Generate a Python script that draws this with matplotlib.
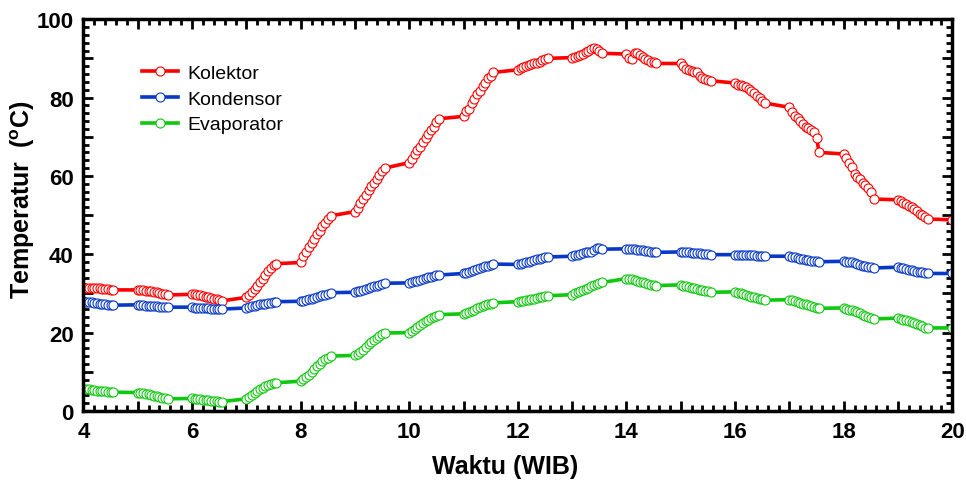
# chart of collector / condenser / evaporator temperature over the day
import numpy as np
import matplotlib.pyplot as plt
from matplotlib.ticker import MultipleLocator, FuncFormatter

plt.rcParams['font.family'] = ['Liberation Sans', 'DejaVu Sans']
plt.rcParams['mathtext.fontset'] = 'custom'
plt.rcParams['mathtext.bf'] = 'Liberation Sans:bold'
plt.rcParams['mathtext.rm'] = 'Liberation Sans'

# measurement hours and 3-minute offsets inside each half-hour burst
hours = [4, 5, 6, 7, 8, 9, 10, 11, 12, 13, 14, 15, 16, 17, 18, 19]
minutes = [0, 3, 6, 9, 12, 15, 18, 21, 24, 27, 30, 33]
last_time = 20

kolektor = [
    31.6, 31.5, 31.5, 31.4, 31.4, 31.3, 31.3, 31.2, 31.2, 31.1, 31.0, 30.9,
    30.9, 30.9, 30.8, 30.7, 30.6, 30.5, 30.4, 30.3, 30.1, 29.9, 29.8, 29.6,
    29.8, 29.8, 29.7, 29.6, 29.4, 29.2, 29.0, 28.8, 28.7, 28.5, 28.3, 28.1,
    29.0, 29.6, 30.3, 31.1, 32.0, 32.9, 33.8, 34.8, 35.8, 36.6, 37.2, 37.6,
    37.9, 39.5, 40.6, 41.8, 42.9, 43.9, 45.2, 46.0, 47.1, 48.1, 49.0, 49.8,
    50.9, 51.8, 53.0, 54.2, 55.2, 56.3, 57.3, 58.3, 59.3, 60.2, 61.2, 62.0,
    63.4, 64.3, 65.5, 66.5, 67.5, 68.6, 69.6, 70.6, 71.6, 72.6, 73.8, 74.6,
    75.2, 76.6, 77.2, 78.7, 79.6, 80.9, 81.7, 83.0, 83.8, 84.9, 85.5, 86.4,
    87.1, 87.5, 87.9, 88.1, 88.3, 88.5, 88.7, 88.8, 89.0, 89.5, 89.9, 90.0,
    90.2, 90.4, 90.6, 90.9, 91.2, 91.6, 92.0, 92.4, 92.7, 92.5, 91.9, 91.3,
    91.1, 90.2, 89.8, 91.3, 91.5, 90.9, 90.4, 89.9, 89.5, 89.2, 89.0, 88.7,
    88.7, 88.1, 87.4, 87.1, 86.8, 86.6, 86.4, 85.5, 85.1, 84.7, 84.4, 84.3,
    83.7, 83.2, 83.2, 83.0, 82.8, 82.3, 81.7, 81.1, 80.4, 79.8, 79.2, 78.6,
    77.5, 76.4, 75.3, 74.7, 74.1, 73.2, 72.6, 72.2, 71.7, 71.1, 69.6, 66.0,
    65.6, 64.5, 63.4, 62.2, 60.5, 59.6, 59.2, 58.3, 57.7, 56.8, 55.8, 54.1,
    53.9, 53.6, 53.2, 52.8, 52.4, 52.0, 51.5, 51.0, 50.4, 49.9, 49.4, 49.0,
    48.8,
]

kondensor = [
    28.0, 27.9, 27.8, 27.7, 27.6, 27.5, 27.4, 27.3, 27.2, 27.1, 27.1, 27.0,
    27.1, 27.0, 27.0, 26.9, 26.9, 26.8, 26.7, 26.7, 26.6, 26.6, 26.5, 26.5,
    26.5, 26.4, 26.4, 26.3, 26.3, 26.2, 26.2, 26.1, 26.1, 26.1, 26.0, 26.0,
    26.3, 26.5, 26.7, 26.9, 27.0, 27.2, 27.3, 27.4, 27.5, 27.6, 27.8, 27.9,
    28.0, 28.1, 28.3, 28.5, 28.7, 28.9, 29.1, 29.3, 29.5, 29.7, 29.9, 30.2,
    30.3, 30.5, 30.7, 30.9, 31.1, 31.3, 31.6, 31.8, 32.0, 32.2, 32.4, 32.6,
    32.7, 32.9, 33.1, 33.3, 33.5, 33.7, 33.9, 34.1, 34.3, 34.4, 34.6, 34.7,
    35.1, 35.3, 35.5, 35.8, 36.0, 36.3, 36.5, 36.7, 36.9, 37.1, 37.3, 37.5,
    37.4, 37.6, 37.8, 38.0, 38.1, 38.3, 38.5, 38.7, 38.8, 39.0, 39.2, 39.3,
    39.5, 39.7, 39.9, 40.1, 40.3, 40.5, 40.6, 40.7, 41.2, 41.5, 41.5, 41.3,
    41.4, 41.4, 41.3, 41.3, 41.2, 41.1, 41.0, 40.9, 40.8, 40.7, 40.6, 40.5,
    40.6, 40.6, 40.5, 40.5, 40.4, 40.3, 40.3, 40.2, 40.1, 40.1, 40.0, 39.9,
    39.9, 39.9, 39.9, 39.8, 39.8, 39.7, 39.7, 39.7, 39.6, 39.6, 39.5, 39.5,
    39.5, 39.4, 39.3, 39.1, 38.9, 38.8, 38.6, 38.5, 38.4, 38.3, 38.2, 38.1,
    38.2, 38.1, 38.0, 37.9, 37.7, 37.5, 37.3, 37.1, 37.0, 36.8, 36.7, 36.5,
    36.7, 36.5, 36.4, 36.2, 36.0, 35.9, 35.7, 35.6, 35.5, 35.4, 35.2, 35.1,
    35.1,
]

evaporator = [
    5.7, 5.6, 5.5, 5.4, 5.3, 5.2, 5.2, 5.1, 5.0, 4.9, 4.9, 4.8,
    4.7, 4.6, 4.5, 4.4, 4.3, 4.1, 3.9, 3.8, 3.6, 3.4, 3.2, 3.1,
    3.2, 3.1, 3.0, 3.0, 2.9, 2.8, 2.7, 2.6, 2.6, 2.5, 2.4, 2.4,
    3.1, 3.5, 4.0, 4.5, 5.0, 5.5, 5.9, 6.3, 6.6, 6.9, 7.1, 7.2,
    7.6, 8.2, 8.7, 9.3, 10.0, 10.8, 11.5, 12.1, 12.7, 13.2, 13.6, 14.0,
    14.2, 14.5, 15.0, 15.6, 16.3, 17.0, 17.6, 18.2, 18.7, 19.2, 19.6, 19.9,
    20.0, 20.4, 20.9, 21.4, 21.9, 22.4, 22.9, 23.3, 23.7, 24.0, 24.3, 24.6,
    24.8, 25.0, 25.3, 25.6, 25.9, 26.2, 26.5, 26.8, 27.0, 27.2, 27.4, 27.6,
    27.9, 28.0, 28.1, 28.2, 28.4, 28.5, 28.7, 28.8, 29.0, 29.1, 29.3, 29.4,
    29.7, 30.0, 30.3, 30.6, 30.9, 31.2, 31.5, 31.8, 32.1, 32.4, 32.6, 32.8,
    33.8, 33.8, 33.6, 33.4, 33.2, 33.0, 32.8, 32.6, 32.4, 32.2, 32.1, 32.0,
    32.2, 32.0, 31.8, 31.6, 31.5, 31.3, 31.1, 31.0, 30.9, 30.7, 30.5, 30.3,
    30.4, 30.2, 30.0, 29.8, 29.5, 29.3, 29.1, 29.0, 28.8, 28.7, 28.5, 28.3,
    28.4, 28.2, 28.0, 27.8, 27.6, 27.4, 27.2, 27.0, 26.8, 26.6, 26.4, 26.2,
    26.3, 26.1, 25.9, 25.7, 25.5, 25.2, 24.9, 24.6, 24.3, 24.0, 23.7, 23.5,
    23.7, 23.5, 23.3, 23.1, 22.9, 22.7, 22.5, 22.2, 21.9, 21.6, 21.3, 21.2,
    21.2,
]

# decimal hour for every sample
waktu = [h + m / 60 for h in hours for m in minutes] + [last_time]

fig = plt.figure(figsize=(9.66, 4.81), dpi=100)
ax = fig.add_axes([0.0864, 0.1435, 0.8994, 0.8145])

series = [
    ("Kolektor", kolektor, "#ff0000"),
    ("Kondensor", kondensor, "#0838c8"),
    ("Evaporator", evaporator, "#10c810"),
]
for label, temp, color in series:
    ax.plot(waktu, temp, color=color, lw=2.6, marker="o", markersize=6.5,
            markerfacecolor="white", markeredgecolor=color,
            markeredgewidth=0.8, label=label)

ax.set_xlim(4, 20)
ax.set_ylim(0, 100)

ax.xaxis.set_major_locator(MultipleLocator(1))
ax.xaxis.set_minor_locator(MultipleLocator(0.2))
ax.xaxis.set_major_formatter(FuncFormatter(lambda v, p: f"{v:.0f}" if round(v) % 2 == 0 else ""))
ax.yaxis.set_major_locator(MultipleLocator(10))
ax.yaxis.set_minor_locator(MultipleLocator(2))
ax.yaxis.set_major_formatter(FuncFormatter(lambda v, p: f"{v:.0f}" if round(v) % 20 == 0 else ""))

ax.tick_params(which="both", direction="in", top=True, right=True, width=2)
ax.tick_params(which="major", length=7, labelsize=16, pad=7)
ax.tick_params(which="minor", length=4)
for lab in ax.get_xticklabels() + ax.get_yticklabels():
    lab.set_fontweight("bold")
for sp in ax.spines.values():
    sp.set_linewidth(2.5)

ax.set_xlabel("Waktu (WIB)", fontsize=18, fontweight="bold")
ax.set_ylabel("Temperatur  ($\\mathbf{^{o}}$C)", fontsize=18, fontweight="bold")
ax.xaxis.set_label_coords(0.485, -0.11)
ax.yaxis.set_label_coords(-0.054, 0.543)

ax.legend(loc="upper left", bbox_to_anchor=(0.058, 0.905), frameon=False,
          fontsize=14, handlelength=1.85, labelspacing=0.42, handletextpad=0.5,
          borderaxespad=0)

fig.savefig("out.png", dpi=100)
